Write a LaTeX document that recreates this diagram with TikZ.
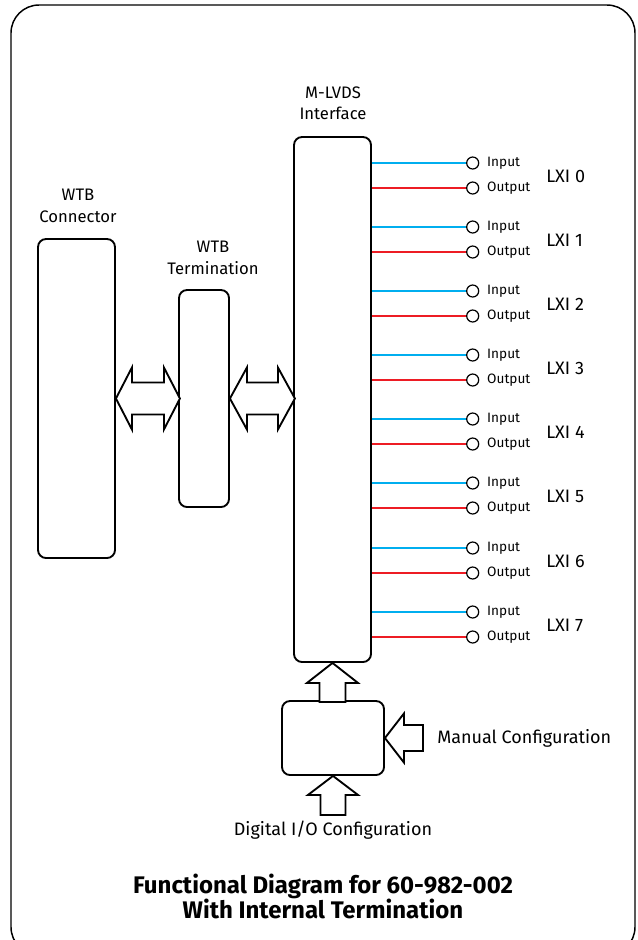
\documentclass[tikz,border=0pt]{standalone}
\usepackage{fontspec}
\setmainfont{Fira Sans}
\usetikzlibrary{positioning,calc}
\definecolor{inblue}{RGB}{0,174,239}
\definecolor{outred}{RGB}{237,28,36}
\tikzset{
  block/.style={draw, line width=1.4pt, rounded corners=6pt, inner sep=0pt},
  fat/.style={draw, line width=1.4pt, line join=miter, fill=white},
  pin/.style={circle, draw, line width=0.9pt, minimum size=9pt, inner sep=0pt},
  lbl/.style={align=center, inner sep=0.75pt, font=\fontsize{12.5}{16}\selectfont},
  pinlbl/.style={anchor=west, inner sep=0.75pt, font=\fontsize{10.2}{12}\selectfont},
  inline/.style={draw=inblue, line width=1.5pt},
  outline/.style={draw=outred, line width=1.5pt},
}
\begin{document}
\begin{tikzpicture}[x=0.75pt,y=0.75pt,yscale=-1,xscale=1]
\useasboundingbox (0,0) rectangle (637,940);
% frame
\draw [line width=1.1pt, rounded corners=21pt] (11,5) rectangle (635,955);
% blocks
\node [block, minimum width=57.75pt, minimum height=239.25pt] (conn) at (76.5,398.5) {};
\node [block, minimum width=37.5pt, minimum height=162.75pt] (term) at (204,398.5) {};
\node [block, minimum width=57.75pt, minimum height=393.75pt] (mlvds) at (332.5,399.5) {};
\node [block, minimum width=76.5pt, minimum height=55.5pt] (cfg) at (333,738) {};
% block labels
\node [lbl] (connlbl) at (78,206) {WTB\\Connector};
\node [lbl] (termlbl) at (213,258) {WTB\\Termination};
\node [lbl] (mlvdslbl) at (333,103.5) {M-LVDS\\Interface};
% fat arrows
\draw [fat] (conn.east) -- ++(16,-31) -- ++(0,15) -- ++(32,0) -- ++(0,-15) -- ++(16,31) -- ++(-16,31) -- ++(0,-15) -- ++(-32,0) -- ++(0,15) -- cycle;
\draw [fat] (term.east) -- ++(17,-31) -- ++(0,15) -- ++(31,0) -- ++(0,-15) -- ++(17,31) -- ++(-17,31) -- ++(0,-15) -- ++(-31,0) -- ++(0,15) -- cycle;
\draw [fat] (mlvds.south) -- ++(25.5,20) -- ++(-12.5,0) -- ++(0,19) -- ++(-26,0) -- ++(0,-19) -- ++(-12.5,0) -- cycle;
\draw [fat] (cfg.south) -- ++(25,19) -- ++(-12.5,0) -- ++(0,20) -- ++(-25,0) -- ++(0,-20) -- ++(-12.5,0) -- cycle;
\draw [fat] (cfg.east) -- ++(19,-24.5) -- ++(0,11.5) -- ++(19,0) -- ++(0,26) -- ++(-19,0) -- ++(0,11.5) -- cycle;
% config labels
\node [lbl, anchor=west, font=\fontsize{13.5}{16}\selectfont] (manual) at (436,738) {Manual Configuration};
\node [lbl, font=\fontsize{13.5}{16}\selectfont] (digital) at (333,830) {Digital I/O Configuration};
% LXI lines
\foreach \i in {0,...,7}{
  \pgfmathsetmacro{\yin}{round(162.5+64.2*\i)}
  \pgfmathsetmacro{\yout}{\yin+25}
  \node [pin] (in\i) at (472.7,\yin) {};
  \node [pin] (out\i) at (472.7,\yout) {};
  \draw [inline] (mlvds.east |- in\i) -- (in\i);
  \draw [outline] (mlvds.east |- out\i) -- (out\i);
  \node [pinlbl, right=5pt of in\i] (inlbl\i) {Input};
  \node [pinlbl, right=5pt of out\i] (outlbl\i) {Output};
  \node [anchor=west, inner sep=0.75pt, font=\fontsize{13.5}{16}\selectfont] (lxi\i) at (545,\yin+13) {LXI \i};
}
% title
\node [align=center, font=\fontsize{18}{19}\selectfont\bfseries] (title) at (323,896.5) {Functional Diagram for 60-982-002\\With Internal Termination};
\end{tikzpicture}
\end{document}
